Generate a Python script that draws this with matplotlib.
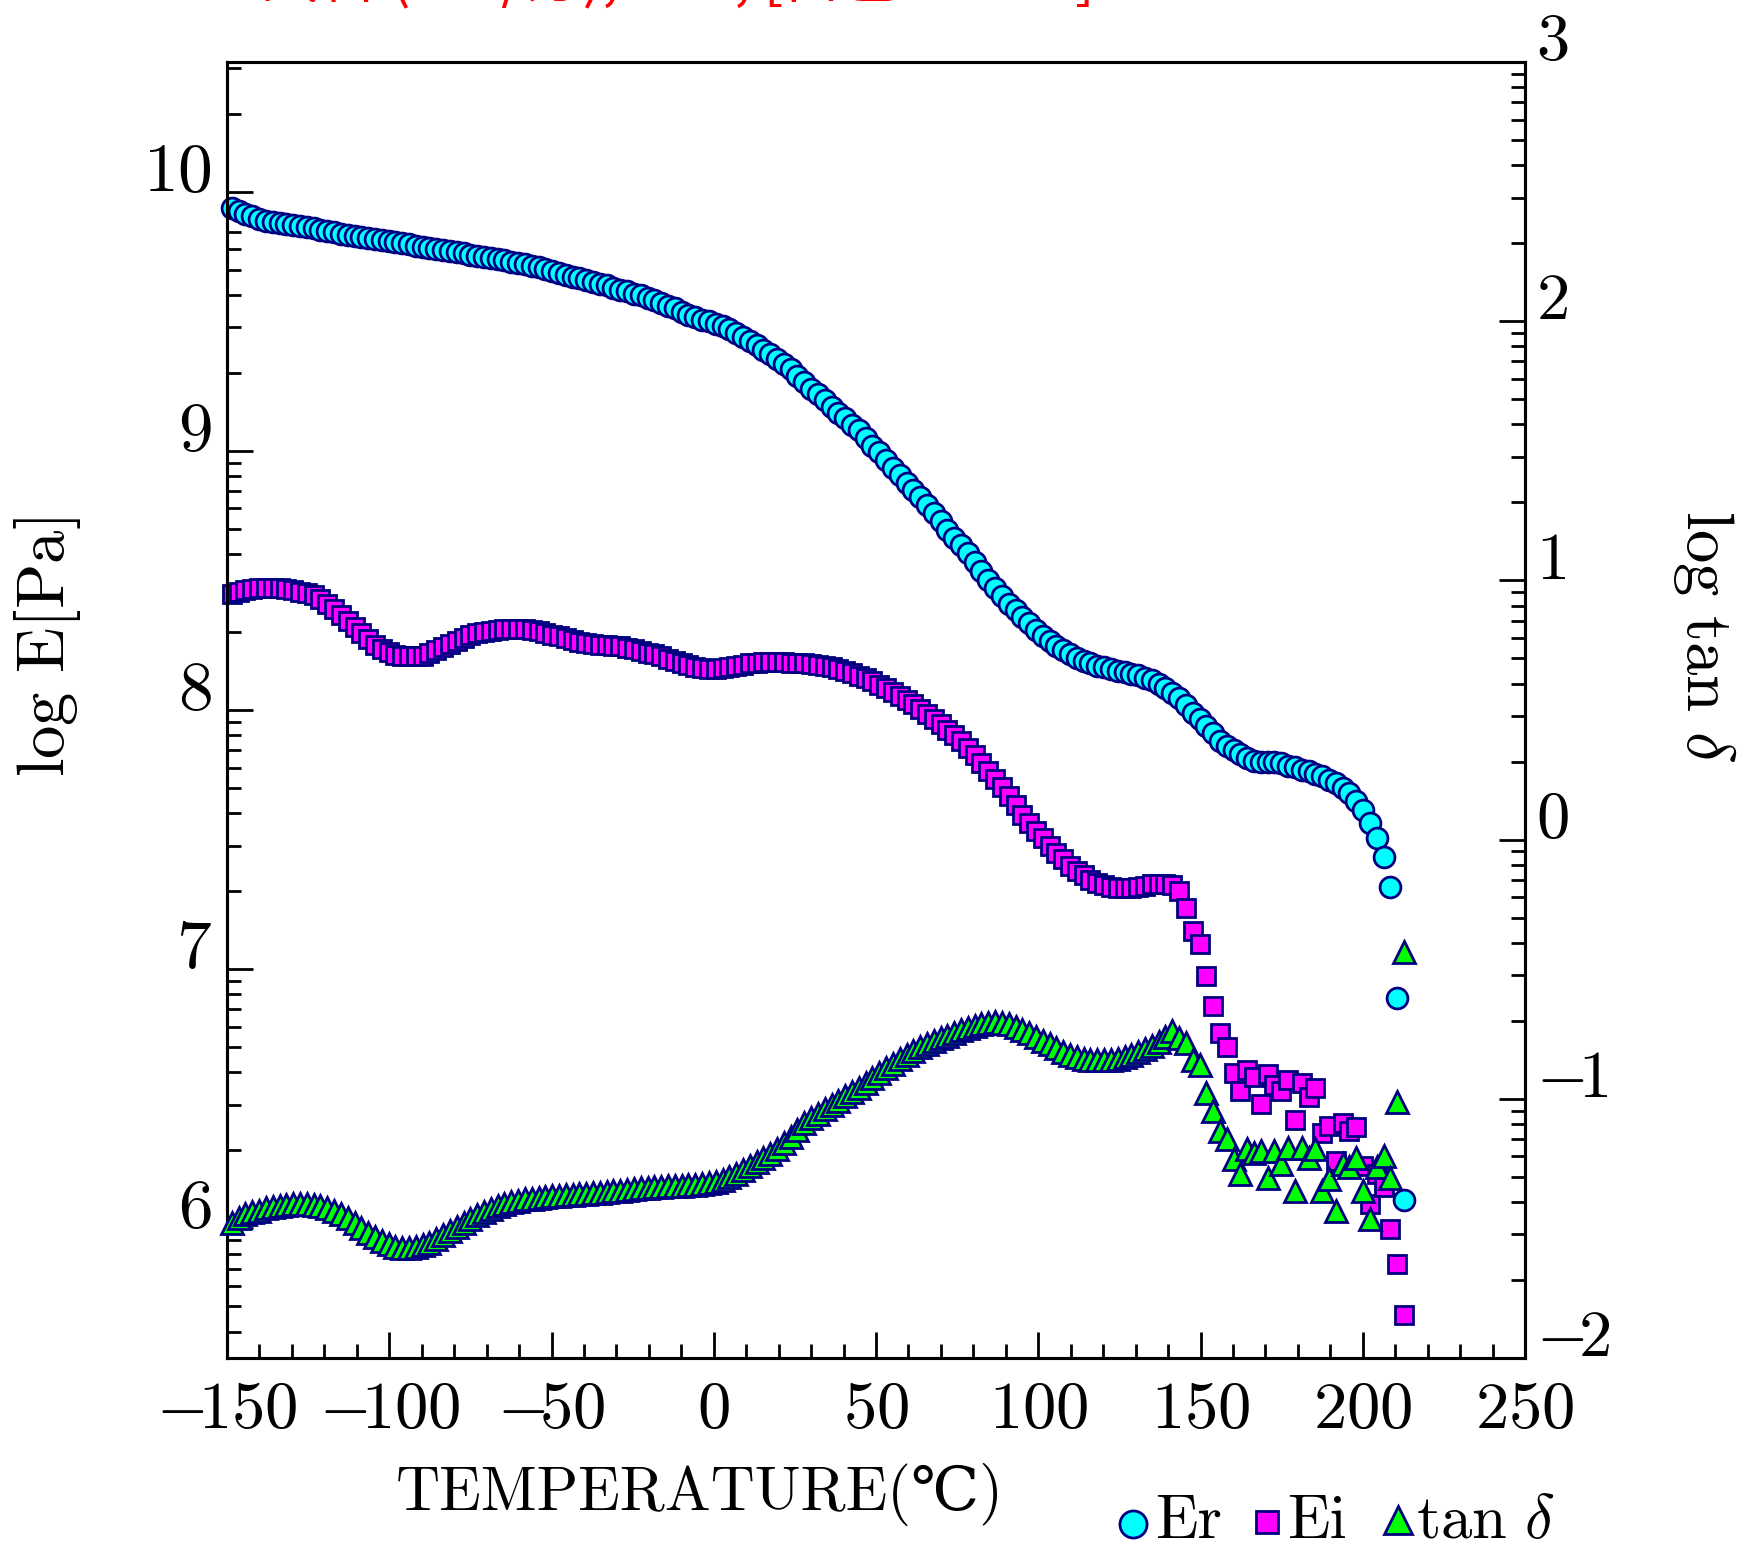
import numpy as np
import matplotlib
matplotlib.use("Agg")
import matplotlib.pyplot as plt
from matplotlib.ticker import FixedLocator, FuncFormatter, LogLocator, MultipleLocator, NullFormatter
from matplotlib.lines import Line2D
import matplotlib.transforms as mtransforms

plt.rcParams['mathtext.fontset'] = 'cm'
plt.rcParams['font.family'] = ['cmr10', 'DejaVu Serif', 'Noto Sans CJK JP']
plt.rcParams['axes.formatter.use_mathtext'] = True

# ---------------- data ----------------
temperature = [
    -148.5, -146.4, -144.3, -142.2, -140.1, -138.0, -135.9, -133.8, -131.7, -129.6,
    -127.5, -125.4, -123.3, -121.2, -119.1, -117.0, -114.9, -112.8, -110.7, -108.6,
    -106.5, -104.4, -102.3, -100.2, -98.1, -96.0, -93.9, -91.8, -89.7, -87.6,
    -85.5, -83.4, -81.3, -79.2, -77.1, -75.0, -72.9, -70.8, -68.7, -66.6,
    -64.5, -62.4, -60.3, -58.2, -56.1, -54.0, -51.9, -49.8, -47.7, -45.6,
    -43.5, -41.4, -39.3, -37.2, -35.1, -33.0, -30.9, -28.8, -26.7, -24.6,
    -22.5, -20.4, -18.3, -16.2, -14.1, -12.0, -9.9, -7.8, -5.7, -3.6,
    -1.5, 0.6, 2.7, 4.8, 6.9, 9.0, 11.1, 13.2, 15.3, 17.4,
    19.5, 21.6, 23.7, 25.8, 27.9, 30.0, 32.1, 34.2, 36.3, 38.4,
    40.5, 42.6, 44.7, 46.8, 48.9, 51.0, 53.1, 55.2, 57.3, 59.4,
    61.5, 63.6, 65.7, 67.8, 69.9, 72.0, 74.1, 76.2, 78.3, 80.4,
    82.5, 84.6, 86.7, 88.8, 90.9, 93.0, 95.1, 97.2, 99.3, 101.4,
    103.5, 105.6, 107.7, 109.8, 111.9, 114.0, 116.1, 118.2, 120.3, 122.4,
    124.5, 126.6, 128.7, 130.8, 132.9, 135.0, 137.1, 139.2, 141.3, 143.4,
    145.5, 147.6, 149.7, 151.8, 153.9, 156.0, 158.1, 160.2, 162.3, 164.4,
    166.5, 168.6, 170.7, 172.8, 174.9, 177.0, 179.1, 181.2, 183.3, 185.4,
    187.5, 189.6, 191.7, 193.8, 195.9, 198.0, 200.1, 202.2, 204.3, 206.4,
    208.5, 210.6, 212.7]

log_er = [
    9.935, 9.925, 9.915, 9.905, 9.896, 9.888, 9.884, 9.880, 9.876, 9.872,
    9.869, 9.863, 9.858, 9.853, 9.848, 9.843, 9.838, 9.834, 9.830, 9.826,
    9.822, 9.817, 9.813, 9.808, 9.804, 9.800, 9.796, 9.792, 9.788, 9.784,
    9.780, 9.776, 9.771, 9.767, 9.762, 9.757, 9.752, 9.748, 9.743, 9.739,
    9.735, 9.730, 9.725, 9.720, 9.714, 9.710, 9.702, 9.694, 9.686, 9.678,
    9.672, 9.665, 9.660, 9.652, 9.645, 9.640, 9.630, 9.620, 9.615, 9.605,
    9.600, 9.590, 9.580, 9.570, 9.560, 9.550, 9.535, 9.525, 9.515, 9.505,
    9.500, 9.490, 9.480, 9.470, 9.455, 9.440, 9.425, 9.410, 9.390, 9.375,
    9.355, 9.335, 9.315, 9.290, 9.265, 9.240, 9.220, 9.195, 9.170, 9.145,
    9.125, 9.100, 9.080, 9.050, 9.020, 8.995, 8.965, 8.935, 8.905, 8.875,
    8.850, 8.820, 8.790, 8.760, 8.730, 8.695, 8.665, 8.635, 8.605, 8.570,
    8.535, 8.500, 8.470, 8.440, 8.410, 8.385, 8.360, 8.335, 8.310, 8.285,
    8.265, 8.245, 8.230, 8.215, 8.200, 8.190, 8.180, 8.170, 8.165, 8.160,
    8.150, 8.145, 8.140, 8.135, 8.125, 8.115, 8.100, 8.085, 8.065, 8.045,
    8.020, 7.990, 7.965, 7.940, 7.910, 7.880, 7.860, 7.845, 7.830, 7.815,
    7.805, 7.800, 7.800, 7.800, 7.795, 7.785, 7.780, 7.770, 7.765, 7.755,
    7.745, 7.730, 7.720, 7.700, 7.680, 7.650, 7.615, 7.564, 7.508, 7.432,
    7.316, 6.889, 6.111]

log_ei = [
    8.448, 8.456, 8.463, 8.468, 8.471, 8.472, 8.471, 8.469, 8.466, 8.462,
    8.456, 8.450, 8.442, 8.428, 8.410, 8.390, 8.368, 8.344, 8.320, 8.298,
    8.275, 8.252, 8.235, 8.222, 8.213, 8.210, 8.208, 8.208, 8.210, 8.218,
    8.232, 8.244, 8.255, 8.266, 8.278, 8.288, 8.296, 8.302, 8.306, 8.309,
    8.311, 8.312, 8.313, 8.312, 8.309, 8.304, 8.298, 8.291, 8.285, 8.278,
    8.271, 8.264, 8.258, 8.254, 8.251, 8.249, 8.247, 8.245, 8.240, 8.234,
    8.228, 8.221, 8.215, 8.207, 8.198, 8.189, 8.180, 8.173, 8.166, 8.162,
    8.160, 8.160, 8.162, 8.166, 8.170, 8.175, 8.180, 8.183, 8.184, 8.184,
    8.184, 8.184, 8.183, 8.182, 8.180, 8.177, 8.173, 8.169, 8.164, 8.158,
    8.152, 8.143, 8.133, 8.122, 8.110, 8.097, 8.083, 8.068, 8.053, 8.037,
    8.022, 8.004, 7.985, 7.966, 7.945, 7.924, 7.903, 7.880, 7.855, 7.825,
    7.796, 7.766, 7.735, 7.703, 7.670, 7.633, 7.595, 7.565, 7.535, 7.505,
    7.475, 7.448, 7.424, 7.400, 7.380, 7.362, 7.345, 7.333, 7.324, 7.318,
    7.315, 7.314, 7.315, 7.318, 7.322, 7.327, 7.330, 7.330, 7.325, 7.300,
    7.235, 7.147, 7.096, 6.974, 6.859, 6.754, 6.699, 6.600, 6.532, 6.613,
    6.585, 6.481, 6.594, 6.555, 6.532, 6.574, 6.417, 6.562, 6.507, 6.542,
    6.369, 6.395, 6.260, 6.408, 6.376, 6.391, 6.241, 6.094, 6.209, 6.158,
    5.997, 5.863, 5.664]

log_tand = [
    -1.480, -1.458, -1.446, -1.438, -1.431, -1.423, -1.417, -1.413, -1.409, -1.406,
    -1.405, -1.406, -1.408, -1.413, -1.420, -1.431, -1.443, -1.460, -1.478, -1.497,
    -1.516, -1.534, -1.550, -1.562, -1.572, -1.576, -1.576, -1.570, -1.563, -1.555,
    -1.540, -1.525, -1.510, -1.494, -1.479, -1.463, -1.449, -1.438, -1.427, -1.415,
    -1.407, -1.400, -1.394, -1.388, -1.385, -1.381, -1.378, -1.376, -1.374, -1.372,
    -1.370, -1.369, -1.367, -1.365, -1.363, -1.360, -1.357, -1.354, -1.351, -1.348,
    -1.345, -1.343, -1.341, -1.340, -1.338, -1.337, -1.335, -1.333, -1.331, -1.328,
    -1.325, -1.320, -1.312, -1.303, -1.290, -1.274, -1.260, -1.245, -1.230, -1.213,
    -1.194, -1.172, -1.148, -1.120, -1.095, -1.075, -1.057, -1.040, -1.024, -1.007,
    -0.990, -0.974, -0.957, -0.939, -0.920, -0.900, -0.883, -0.866, -0.848, -0.832,
    -0.816, -0.801, -0.788, -0.777, -0.766, -0.756, -0.746, -0.736, -0.727, -0.718,
    -0.712, -0.707, -0.705, -0.706, -0.712, -0.722, -0.735, -0.748, -0.762, -0.776,
    -0.789, -0.803, -0.818, -0.830, -0.838, -0.845, -0.850, -0.852, -0.852, -0.850,
    -0.845, -0.838, -0.830, -0.820, -0.808, -0.795, -0.780, -0.762, -0.740, -0.765,
    -0.785, -0.849, -0.868, -0.977, -1.047, -1.124, -1.156, -1.233, -1.291, -1.195,
    -1.208, -1.201, -1.304, -1.201, -1.253, -1.188, -1.355, -1.188, -1.227, -1.195,
    -1.355, -1.310, -1.432, -1.253, -1.265, -1.227, -1.355, -1.464, -1.265, -1.220,
    -1.304, -1.013, -0.432]

x_ticks = [-150, -100, -50, 0, 50, 100, 150, 200, 250]
left_exponents = [6, 7, 8, 9, 10]
right_exponents = [-2, -1, 0, 1, 2, 3]

series_names = ["Er", "Ei", r"$\mathrm{tan}\ \delta$"]
x_label = "TEMPERATURE(℃)"
left_label = r"$\mathrm{log\ E[Pa]}$"
right_label = r"$\mathrm{log\ tan}\ \delta$"
title_text = "試料 (2℃/分), 1Hz, [白色シート]"

assert len(temperature) == len(log_er) == len(log_ei) == len(log_tand)


def num_label(v):
    k = int(round(v))
    return f"$-\\!{abs(k)}$" if k < 0 else f"${k}$"


# ---------------- figure ----------------
W, H = 1742, 1549
fig = plt.figure(figsize=(W / 100, H / 100), dpi=100)
ax = fig.add_axes([227 / W, 1 - 1358 / H, (1525 - 227) / W, (1358 - 62) / H])
ax2 = ax.twinx()

edge = '#000080'
T = np.array(temperature)
ax.plot(T, 10 ** np.array(log_er), ls='none', marker='o', ms=15, mfc='#00FFFF',
        mec=edge, mew=2.0, clip_on=False, zorder=3)
ax.plot(T, 10 ** np.array(log_ei), ls='none', marker='s', ms=13.5, mfc='#FF00FF',
        mec=edge, mew=2.0, clip_on=False, zorder=4)
ax2.plot(T, 10 ** np.array(log_tand), ls='none', marker='^', ms=16.5, mfc='#00FF00',
         mec=edge, mew=2.0, clip_on=False, zorder=5)

ax.set_xlim(-150, 250)
ax.set_yscale('log')
ax.set_ylim(10 ** 5.5, 10 ** 10.5)
ax2.set_yscale('log')
ax2.set_ylim(1e-2, 1e3)

ax.xaxis.set_major_locator(FixedLocator(x_ticks))
ax.xaxis.set_minor_locator(MultipleLocator(10))
ax.xaxis.set_major_formatter(FuncFormatter(lambda v, p: num_label(v)))

expfmt = FuncFormatter(lambda v, p: num_label(np.log10(v)))
ax.yaxis.set_major_locator(FixedLocator([10.0 ** k for k in left_exponents]))
ax.yaxis.set_minor_locator(LogLocator(base=10, subs=np.arange(2, 10), numticks=20))
ax.yaxis.set_major_formatter(expfmt)
ax.yaxis.set_minor_formatter(NullFormatter())
ax2.yaxis.set_major_locator(FixedLocator([10.0 ** k for k in right_exponents]))
ax2.yaxis.set_minor_locator(LogLocator(base=10, subs=np.arange(2, 10), numticks=20))
ax2.yaxis.set_major_formatter(expfmt)
ax2.yaxis.set_minor_formatter(NullFormatter())

ax.tick_params(axis='both', which='both', direction='in', width=2, color='black')
ax.tick_params(axis='x', which='major', length=19, pad=17, labelsize=48, top=False)
ax.tick_params(axis='x', which='minor', length=10, top=False)
ax.tick_params(axis='y', which='major', length=19, pad=11, labelsize=50, right=False)
ax.tick_params(axis='y', which='minor', length=10, right=False)
ax2.tick_params(axis='y', which='both', direction='in', width=2, left=False)
ax2.tick_params(axis='y', which='major', length=19, pad=8, labelsize=48)
ax2.tick_params(axis='y', which='minor', length=10)

for a in (ax, ax2):
    for sp in a.spines.values():
        sp.set_linewidth(2.2)

fig.text(47.5 / W, 1 - 647 / H, left_label, rotation=90, ha='center', va='center', fontsize=48)
fig.text(1704 / W, 1 - 636 / H, right_label, rotation=270, ha='center', va='center', fontsize=48)
fig.text(700 / W, 1 - 1494 / H, x_label, ha='center', va='center', fontsize=44)

# title: only its lowest part shows at the top edge, as in the reference
fig.text(261 / W, 1 + 4 / H, title_text, color='red', fontsize=42, va='baseline', ha='left',
         family=['Noto Sans CJK JP', 'DejaVu Sans'])

# legend drawn below the axes at the bottom right
leg_markers = [('o', 19.5, '#00FFFF', 1133, 1524),
               ('s', 16, '#FF00FF', 1267, 1522),
               ('^', 20, '#00FF00', 1398, 1520)]
leg_text_x = [1155, 1287, 1416]
for (mk, ms, fc, x, y), name, tx in zip(leg_markers, series_names, leg_text_x):
    fig.add_artist(Line2D([x / W], [1 - y / H], transform=fig.transFigure, ls='none',
                          marker=mk, ms=ms, mfc=fc, mec=edge, mew=2.0))
    fig.text(tx / W, 1 - 1538 / H, name, ha='left', va='baseline', fontsize=45)

# shift y tick labels upward like the reference
fig.canvas.draw()
off = mtransforms.ScaledTranslation(0, 18 / 72, fig.dpi_scale_trans)
for t in ax.yaxis.get_major_ticks() + ax2.yaxis.get_major_ticks():
    t.label1.set_transform(t.label1.get_transform() + off)
    t.label2.set_transform(t.label2.get_transform() + off)

fig.savefig('out.png', dpi=100)
